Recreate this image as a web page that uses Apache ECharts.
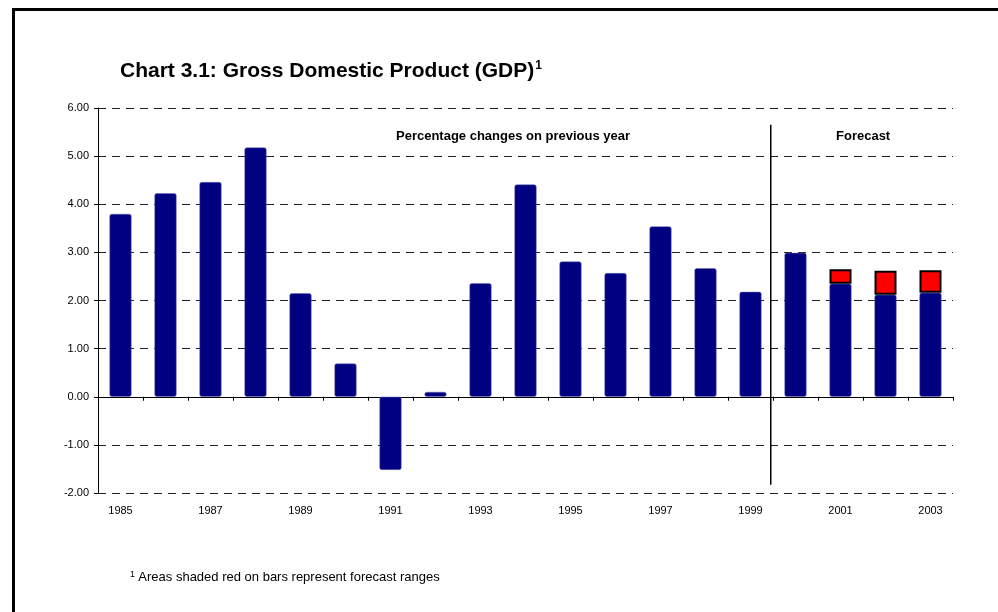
<!DOCTYPE html>
<html>
<head>
<meta charset="utf-8">
<title>Chart 3.1: Gross Domestic Product (GDP)</title>
<script src="https://cdn.jsdelivr.net/npm/echarts@6/dist/echarts.min.js"></script>
<style>
  html, body { margin: 0; padding: 0; background: #fff; }
  #main { width: 998px; height: 612px; }
</style>
</head>
<body>
<div id="main"></div>
<script>
// 数据
var years = ['1985', '1986', '1987', '1988', '1989', '1990', '1991', '1992', '1993', '1994',
  '1995', '1996', '1997', '1998', '1999', '2000', '2001', '2002', '2003'];
var gdpChange = [3.80, 4.23, 4.46, 5.18, 2.15, 0.69, -1.52, 0.10, 2.36, 4.41,
  2.81, 2.57, 3.54, 2.67, 2.18, 2.99, 2.35, 2.12, 2.16];
// upper end of the forecast range (only forecast years)
var forecastUpper = [null, null, null, null, null, null, null, null, null, null,
  null, null, null, null, null, null, 2.65, 2.62, 2.63];
var yTicks = { min: -2, max: 6, interval: 1 };
// divider between outturn and forecast
var dividerX = [14.45, 14.45];
var dividerY = [5.65, -1.83];

var FONT = '"Liberation Sans", Arial, sans-serif';

// red part = range above the central bar
var forecastRange = forecastUpper.map(function (v, i) {
  return v == null ? null : +(v - gdpChange[i]).toFixed(2);
});

var myChart = echarts.init(document.getElementById('main'));
myChart.setOption({
  animation: false,
  textStyle: { fontFamily: FONT },
  title: {
    left: 115,
    top: 55,
    text: '{t|Chart 3.1: Gross Domestic Product (GDP)}{s|1}',
    textStyle: {
      rich: {
        t: { fontFamily: FONT, fontSize: 21, fontWeight: 'bold', color: '#000' },
        s: { fontFamily: FONT, fontSize: 12, fontWeight: 'bold', color: '#000', verticalAlign: 'top', padding: [0, 0, 10, 1] }
      }
    }
  },
  grid: { left: 98, right: 45, top: 108, bottom: 119 },
  xAxis: [{
    // labels along the bottom
    type: 'category',
    data: years,
    axisLine: { show: false, onZero: false },
    axisTick: { show: false },
    axisLabel: { interval: 1, margin: 12, fontSize: 11, color: '#000', fontFamily: FONT }
  }, {
    // zero line with ticks
    type: 'category',
    data: years,
    position: 'bottom',
    axisLine: { show: true, onZero: true, lineStyle: { color: '#000', width: 1 } },
    axisTick: { show: true, length: 4, lineStyle: { color: '#000' } },
    axisLabel: { show: false }
  }, {
    type: 'value',
    min: -0.5,
    max: 18.5,
    show: false
  }],
  yAxis: {
    type: 'value',
    min: yTicks.min,
    max: yTicks.max,
    interval: yTicks.interval,
    axisLine: { show: true, onZero: false, lineStyle: { color: '#000', width: 1 } },
    axisTick: { show: true, length: 4, lineStyle: { color: '#000' } },
    axisLabel: {
      fontSize: 11, color: '#000', margin: 9, fontFamily: FONT,
      formatter: function (v) { return v.toFixed(2); }
    },
    splitLine: { show: true, lineStyle: { color: '#222', type: [8, 6], width: 1 } }
  },
  series: [{
    name: 'GDP',
    type: 'bar',
    xAxisIndex: 0,
    stack: 'gdp',
    barWidth: 22,
    itemStyle: { color: '#000080', borderColor: '#6a6ab8', borderWidth: 0.5, borderRadius: 2 },
    data: gdpChange
  }, {
    name: 'Forecast range',
    type: 'bar',
    xAxisIndex: 0,
    stack: 'gdp',
    barWidth: 22,
    itemStyle: { color: '#ff0000', borderColor: '#000', borderWidth: 2 },
    data: forecastRange
  }, {
    name: 'divider',
    type: 'line',
    xAxisIndex: 2,
    symbol: 'none',
    lineStyle: { color: '#000', width: 1.5 },
    data: [[dividerX[0], dividerY[0]], [dividerX[1], dividerY[1]]]
  }],
  graphic: [{
    type: 'rect',
    left: 11,
    top: 7,
    shape: { width: 1100, height: 700 },
    style: { fill: 'none', stroke: '#000', lineWidth: 3 },
    silent: true
  }, {
    type: 'text',
    left: 396,
    top: 130,
    style: { text: 'Percentage changes on previous year', font: 'bold 13px ' + FONT, fill: '#000' }
  }, {
    type: 'text',
    left: 836,
    top: 130,
    style: { text: 'Forecast', font: 'bold 13px ' + FONT, fill: '#000' }
  }, {
    type: 'text',
    left: 130,
    top: 570,
    style: {
      text: '{s|1} {t|Areas shaded red on bars represent forecast ranges}',
      rich: {
        s: { fontFamily: FONT, fontSize: 9, color: '#000', verticalAlign: 'top', padding: [0, 0, 6, 0] },
        t: { fontFamily: FONT, fontSize: 13, color: '#000' }
      }
    }
  }]
});
</script>
</body>
</html>
